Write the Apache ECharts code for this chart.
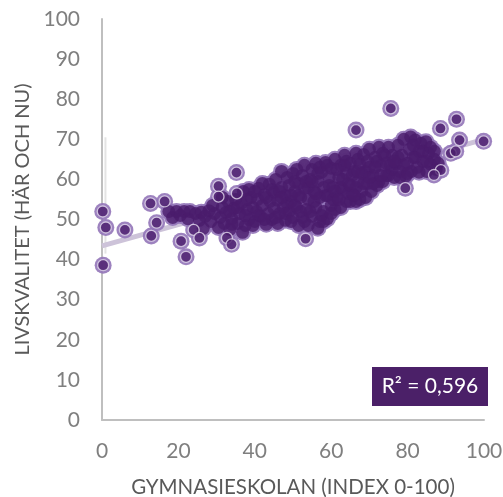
<!DOCTYPE html>
<html>
<head>
<meta charset="utf-8">
<script src="https://cdn.jsdelivr.net/npm/echarts@6/dist/echarts.min.js"></script>
<style>
html,body{margin:0;padding:0;background:#fff;}
#chart{width:503px;height:497px;}
</style>
</head>
<body>
<div id="chart"></div>
<script>
// Tick values
const xTicks = [0, 20, 40, 60, 80, 100];
const yTicks = [0, 10, 20, 30, 40, 50, 60, 70, 80, 90, 100];
const xAxisName = 'GYMNASIESKOLAN (INDEX 0-100)';
const yAxisName = 'LIVSKVALITET (HÄR OCH NU)';
const rSquaredText = 'R² = 0,596';

// Points: [gymnasieskolan index, livskvalitet]
const outlierPoints = [
  [0.2,52.0],[1.0,48.0],[0.3,38.6],[6.0,47.4],[12.9,45.9],[12.7,54.0],[16.4,54.5],[14.3,49.2],
  [20.7,44.6],[22.0,40.7],[24.0,47.4],[25.5,45.4],[32.7,45.4],[33.9,43.8],[30.5,58.3],[30.5,55.7],
  [35.2,61.7],[35.3,56.5],[53.3,45.2],[66.5,72.3],[75.6,77.7],[88.6,72.7],[92.8,75.0],[93.6,69.8],
  [99.9,69.5],[91.3,66.5],[92.6,67.0],[79.4,57.8],[88.7,62.3],[86.9,61.1]
];
const leftBandPoints = [
  [17.5,52.0],[18.5,50.5],[19.5,52.0],[20.5,51.0],[21.5,52.0],[22.5,50.2],[23.0,52.0],[24.5,51.5],
  [25.5,49.8],[26.0,51.8],[27.0,50.8],[28.0,52.2],[28.5,49.5],[29.5,51.5],[29.0,53.5],[26.5,47.8]
];
const midLowPoints = [
  [30.5,48.0],[31.0,50.5],[31.5,53.0],[32.0,49.0],[32.5,51.8],[33.0,54.5],[33.5,47.5],[34.0,50.2],
  [34.5,52.8],[35.0,55.0],[35.5,49.0],[36.0,51.5],[36.5,54.0],[37.0,57.0],[37.5,48.5],[38.0,52.5],
  [38.5,50.0],[39.0,55.5],[39.5,53.0],[38.5,57.5],[36.8,46.8],[38.0,55.0],[34.0,48.8],
  [40.0,49.5],[40.5,52.0],[40.8,55.0],[41.0,57.8],[41.5,50.8],[42.0,53.5],[42.5,56.2],[43.0,48.8],
  [43.5,51.5],[43.8,58.8],[44.0,54.5],[44.5,50.0],[45.0,56.8],[45.0,52.8],[42.0,59.0],[41.0,51.0],[43.0,55.5],
  [31.5,55.5],[33.5,52.0],[35.5,53.0],[37.5,51.0],[39.5,48.5],[40.0,57.0],[42.5,50.0],[44.5,57.5]
];
const midPoints = [
  [45.5,60.0],[46.0,49.0],[46.0,54.8],[46.5,51.5],[47.0,58.0],[47.0,62.0],[47.5,53.0],[48.0,56.0],
  [48.0,49.8],[48.5,60.5],[49.0,52.0],[49.0,58.5],[49.5,54.5],[50.0,61.5],[50.0,50.5],[50.5,57.0],
  [51.0,53.0],[51.0,62.5],[51.5,59.0],[51.5,48.5],[46.5,57.0],[48.5,54.0],[50.5,59.5],
  [52.0,55.5],[52.5,50.5],[52.5,61.0],[53.0,57.8],[53.0,63.5],[53.5,52.5],[54.0,48.5],[54.0,55.0],
  [54.5,60.0],[55.0,62.5],[55.0,50.8],[55.5,57.0],[56.0,53.0],[56.0,64.0],[56.5,59.5],[57.0,49.5],
  [57.0,55.5],[57.5,61.8],[58.0,52.0],[58.0,58.0],[58.5,64.2],[59.0,50.2],[59.0,56.0],[59.5,60.5],
  [60.0,53.5],[60.0,62.8],[56.5,47.8],[52.0,52.0],[54.0,58.0],[55.5,54.5],[56.5,61.5],[57.5,51.0],
  [58.5,56.0],[59.5,58.5],
  [45.5,50.5],[47.0,55.5],[48.0,51.5],[49.5,49.5],[49.5,56.0],[50.5,53.5],[51.5,56.0],[53.0,49.5],
  [53.5,59.5],[54.5,52.0],[55.0,59.5],[56.0,56.5],[57.0,63.0],[58.0,49.5],[59.0,63.5]
];
const highPoints = [
  [60.5,58.0],[61.0,52.5],[61.0,65.0],[61.5,55.5],[62.0,60.5],[62.5,53.0],[62.5,63.5],[63.0,57.5],
  [63.5,66.0],[64.0,54.5],[64.0,61.5],[64.5,59.0],[65.0,54.5],[65.0,64.0],[65.5,56.5],[66.0,62.0],
  [66.5,66.5],[66.5,54.5],[67.0,59.5],[67.5,63.8],[68.0,57.0],[68.0,61.5],[67.5,55.0],
  [60.5,55.0],[61.5,62.5],[62.5,58.0],[63.5,63.5],[64.5,56.5],[65.5,61.0],[66.5,58.0],[67.0,65.0],
  [68.5,66.2],[69.0,55.5],[69.5,59.0],[70.0,63.0],[70.0,67.5],[70.5,57.0],[71.0,61.0],[71.5,65.5],
  [72.0,58.5],[72.5,68.0],[72.5,59.5],[73.0,63.5],[73.5,59.5],[74.0,66.0],[74.5,61.0],[75.0,68.0],
  [75.0,61.0],[75.5,63.5],[76.0,66.0],[69.0,62.0],[71.0,59.0],[72.0,64.5],[73.5,66.5],[76.0,62.5],
  [76.5,60.5],[77.0,64.0],[77.5,68.5],[78.0,62.0],[78.5,66.0],[79.0,70.0],[79.5,60.8],[80.0,64.0],
  [80.5,67.5],[80.8,70.6],[81.0,62.0],[81.5,65.5],[82.0,69.8],[82.5,63.0],[83.0,67.0],[83.5,69.0],
  [84.0,64.5],[84.8,69.4],[85.0,62.0],[85.5,66.5],[86.0,63.8],[87.0,65.0],[87.5,62.5],[88.0,64.0],
  [77.5,65.5],[79.0,63.5],[82.0,65.5],[84.0,67.0],[86.0,68.0],
  [60.0,51.5],[61.0,57.0],[62.0,55.0],[63.0,60.0],[64.0,64.5],[65.0,58.5],[66.0,56.0],[67.0,62.0],
  [68.5,59.0],[69.5,64.5],[70.0,60.5],[71.5,63.0],[73.0,61.0],[74.5,64.0],[76.5,64.5],[78.0,60.5],
  [80.0,61.5],[81.5,68.5],[83.0,61.8],[85.0,64.5],[87.0,67.0]
];
// Linear trendline endpoints
const trendLine = [[0, 43.4], [100, 70.0]];
const faintLine = [[0.9, 70.5], [0.9, 41.5]];

const clusterPoints = [].concat(leftBandPoints, midLowPoints, midPoints, highPoints);
const allPoints = [].concat(clusterPoints, outlierPoints);

const chart = echarts.init(document.getElementById('chart'), null, {renderer: 'canvas'});
const fontFam = 'Lato, "Open Sans", sans-serif';
chart.setOption({
  animation: false,
  grid: {left: 102, right: 19, top: 19, bottom: 77, containLabel: false, outerBoundsMode: 'none'},
  xAxis: {
    type: 'value', min: xTicks[0], max: xTicks[xTicks.length - 1], interval: 20,
    axisLine: {show: true, lineStyle: {color: '#bfbfbf', width: 2}},
    axisTick: {show: false},
    splitLine: {show: false},
    axisLabel: {color: '#7f7f7f', fontSize: 21, fontFamily: fontFam, margin: 21},
    name: xAxisName, nameLocation: 'middle', nameGap: 57,
    nameTextStyle: {color: '#595959', fontSize: 20.5, fontFamily: fontFam}
  },
  yAxis: {
    type: 'value', min: yTicks[0], max: yTicks[yTicks.length - 1], interval: 10,
    axisLine: {show: true, lineStyle: {color: '#bfbfbf', width: 2}},
    axisTick: {show: false},
    splitLine: {show: false},
    axisLabel: {color: '#7f7f7f', fontSize: 21, fontFamily: fontFam, margin: 22},
    name: yAxisName, nameLocation: 'middle', nameGap: 66, nameRotate: 90,
    nameTextStyle: {color: '#595959', fontSize: 20, fontFamily: fontFam}
  },
  series: [
    {
      type: 'line', data: faintLine, symbol: 'none', silent: true, z: 1,
      lineStyle: {color: '#e4e4e4', width: 2}
    },
    {
      type: 'line', data: trendLine, symbol: 'none', silent: true, z: 2,
      lineStyle: {color: '#cdc3d9', width: 5}
    },
    {
      type: 'scatter', data: allPoints, symbolSize: 17, z: 3,
      itemStyle: {color: '#9274b8', opacity: 0.9}
    },
    {
      type: 'scatter', data: clusterPoints, symbolSize: 13, z: 4,
      itemStyle: {color: '#4a1b6b'}
    },
    {
      type: 'scatter', data: outlierPoints, symbolSize: 11, z: 5,
      itemStyle: {color: '#4a1b6b', borderColor: 'rgba(240,234,246,0.9)', borderWidth: 1.3}
    }
  ],
  graphic: [
    {type: 'rect', z: 10, shape: {x: 372, y: 367, width: 116, height: 39}, style: {fill: '#4b2068'}},
    {type: 'text', z: 11, x: 430, y: 386.5,
     style: {text: rSquaredText, fill: '#ffffff', font: '21px ' + fontFam, textAlign: 'center', textVerticalAlign: 'middle'}}
  ]
});
</script>
</body>
</html>
